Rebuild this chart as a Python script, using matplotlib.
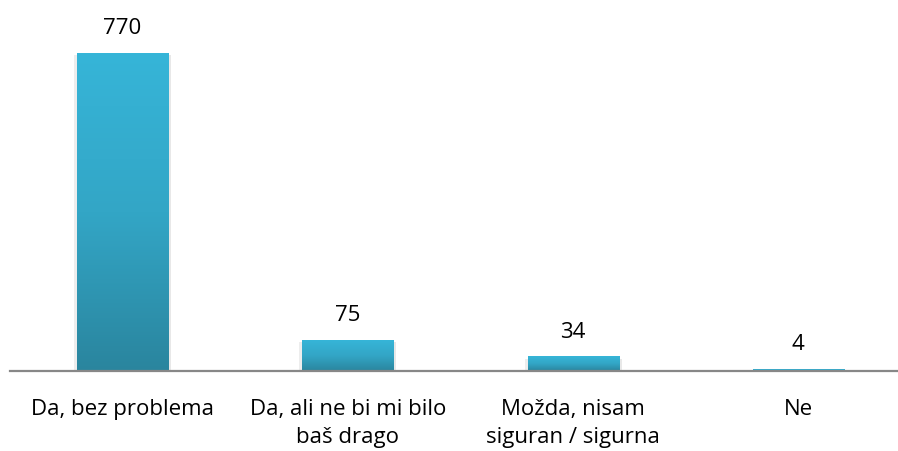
import numpy as np
import matplotlib.pyplot as plt
from matplotlib import patheffects as pe
from matplotlib.colors import LinearSegmentedColormap

categories = ["Da, bez problema", "Da, ali ne bi mi bilo\nbaš drago",
              "Možda, nisam\nsiguran / sigurna", "Ne"]
values = [770, 75, 34, 4]

plt.rcParams['font.family'] = ['Open Sans', 'DejaVu Sans']

fig = plt.figure(figsize=(8.98, 4.51), dpi=100)
# axes a bit wider than the figure on the right, like the original
ax = fig.add_axes([10 / 898, 1 - 370.5 / 451, 901 / 898, 330 / 451])

x = np.arange(len(categories))
bars = ax.bar(x, values, width=0.405, color='#31a3c3', zorder=2)

cmap = LinearSegmentedColormap.from_list('bar', ['#2a859e', '#33a6c6', '#36b5d8'])
grad = np.linspace(0, 1, 256).reshape(-1, 1)
for b in bars:
    # soft grey shadow on both sides
    b.set_path_effects([pe.SimplePatchShadow(offset=(2, -1.5), shadow_rgbFace='#000000', alpha=0.09),
                        pe.SimplePatchShadow(offset=(-2, -1.5), shadow_rgbFace='#000000', alpha=0.07),
                        pe.Normal()])
    x0, y0 = b.get_x(), b.get_y()
    im = ax.imshow(grad, cmap=cmap, origin='lower', aspect='auto', zorder=3,
                   extent=[x0, x0 + b.get_width(), y0, y0 + b.get_height()])
    im.set_clip_path(b)

for xi, v in zip(x, values):
    ax.annotate(str(v), (xi, v), xytext=(0, 13.5), textcoords='offset points',
                ha='center', va='baseline', fontsize=16, color='#000000')

ax.set_xlim(-0.5, len(categories) - 0.5)
ax.set_ylim(0, 800)
ax.set_xticks(x)
ax.set_xticklabels(categories, fontsize=16, linespacing=1.45)
ax.tick_params(axis='x', length=0, pad=20.5)
ax.set_yticks([])
for s in ['top', 'right', 'left']:
    ax.spines[s].set_visible(False)
ax.spines['bottom'].set_color('#878787')
ax.spines['bottom'].set_linewidth(1.6)
ax.spines['bottom'].set_zorder(4)

fig.savefig('out.png', dpi=100)
